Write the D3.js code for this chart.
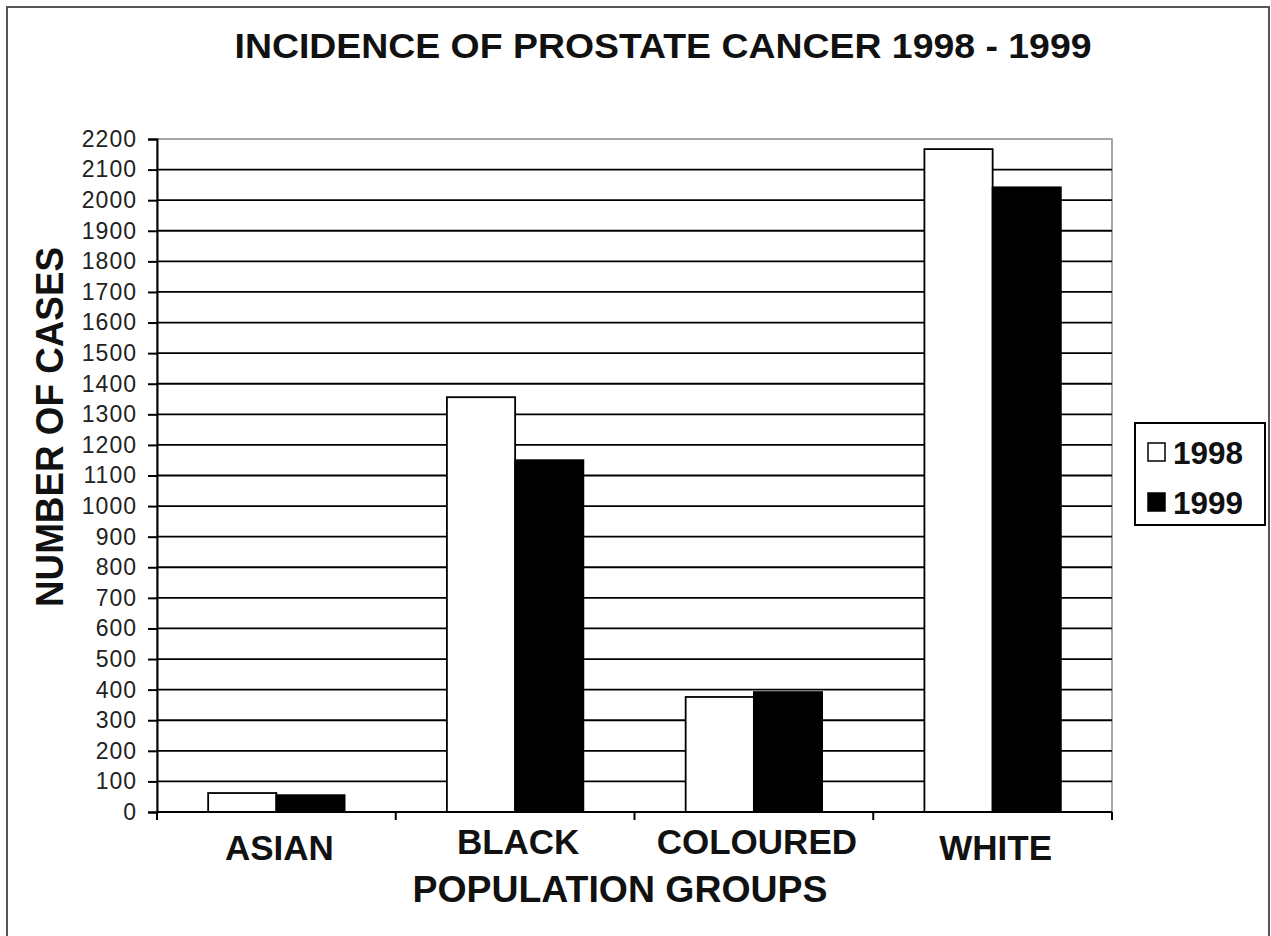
<!DOCTYPE html>
<html>
<head>
<meta charset="utf-8">
<script src="https://cdn.jsdelivr.net/npm/d3@7"></script>
<style>
  html, body { margin: 0; padding: 0; background: #fff; }
  svg { display: block; font-family: "Liberation Sans", Arial, sans-serif; }
</style>
</head>
<body>
<svg id="chart" width="1271" height="936"></svg>
<script>
// Population groups and yearly prostate cancer case counts
const categories = ["ASIAN", "BLACK", "COLOURED", "WHITE"];
const seriesNames = ["1998", "1999"];
const cases1998 = [62, 1356, 376, 2167];
const cases1999 = [55, 1150, 392, 2042];
const yTicks = d3.range(0, 2201, 100);

const titleText = "INCIDENCE OF PROSTATE CANCER 1998 - 1999";
const yTitleText = "NUMBER OF CASES";
const xTitleText = "POPULATION GROUPS";

const seriesValues = [cases1998, cases1999];
const seriesFill = ["#ffffff", "#000000"];

const svg = d3.select("#chart");

// Outer chart frame
svg.append("rect")
  .attr("x", 7).attr("y", 7)
  .attr("width", 1262).attr("height", 935)
  .attr("fill", "#fff")
  .attr("stroke", "#555").attr("stroke-width", 2);

const plot = { left: 157, right: 1112, top: 139, bottom: 812 };

const x = d3.scaleBand()
  .domain(categories)
  .range([plot.left, plot.right])
  .paddingInner(0).paddingOuter(0);

const y = d3.scaleLinear()
  .domain([0, 2200])
  .range([plot.bottom, plot.top]);

// Bars within each category take 1/(1+gap) of the band
const gapRatio = 0.75;
const groupWidth = x.bandwidth() / (1 + gapRatio);
const x1 = d3.scaleBand()
  .domain(seriesNames)
  .range([0, groupWidth]);

// Plot area border
svg.append("rect")
  .attr("x", plot.left).attr("y", plot.top)
  .attr("width", plot.right - plot.left)
  .attr("height", plot.bottom - plot.top)
  .attr("fill", "none")
  .attr("stroke", "#8a8a8a").attr("stroke-width", 1.5);

// Horizontal gridlines
svg.append("g")
  .selectAll("line")
  .data(yTicks.filter(d => d > 0 && d < 2200))
  .join("line")
  .attr("x1", plot.left).attr("x2", plot.right)
  .attr("y1", d => y(d)).attr("y2", d => y(d))
  .attr("stroke", "#000").attr("stroke-width", 1.8);

// Bars
const groups = svg.append("g")
  .selectAll("g")
  .data(categories)
  .join("g")
  .attr("transform", d => `translate(${x(d) + (x.bandwidth() - groupWidth) / 2},0)`);

groups.selectAll("rect")
  .data((c, ci) => seriesNames.map((s, si) => ({ s, si, v: seriesValues[si][ci] })))
  .join("rect")
  .attr("x", d => x1(d.s))
  .attr("y", d => y(d.v))
  .attr("width", x1.bandwidth())
  .attr("height", d => y(0) - y(d.v))
  .attr("fill", d => seriesFill[d.si])
  .attr("stroke", "#000").attr("stroke-width", 1.8);

// Y axis
const yAxis = svg.append("g")
  .attr("transform", `translate(${plot.left},0)`)
  .call(d3.axisLeft(y).tickValues(yTicks).tickSize(9).tickPadding(11).tickFormat(d3.format("d")));
yAxis.select(".domain").attr("stroke", "#000").attr("stroke-width", 2);
yAxis.selectAll(".tick line").attr("stroke", "#000").attr("stroke-width", 2);
yAxis.selectAll(".tick text")
  .attr("font-family", "'Liberation Sans', Arial, sans-serif")
  .attr("font-size", 23)
  .attr("letter-spacing", 1)
  .attr("fill", "#222");

// X axis: tick marks on category boundaries, labels centred on bands
const xAxis = svg.append("g")
  .attr("transform", `translate(0,${plot.bottom})`);
xAxis.append("line")
  .attr("x1", plot.left).attr("x2", plot.right)
  .attr("stroke", "#000").attr("stroke-width", 2);
const boundaries = categories.map(c => x(c)).concat([plot.right]);
xAxis.selectAll("line.tick")
  .data(boundaries)
  .join("line")
  .attr("class", "tick")
  .attr("x1", d => d).attr("x2", d => d)
  .attr("y1", 0).attr("y2", 8)
  .attr("stroke", "#000").attr("stroke-width", 2);

const labelRaise = [0, 6, 6, 0];
svg.append("g")
  .selectAll("text")
  .data(categories)
  .join("text")
  .attr("x", d => x(d) + x.bandwidth() / 2 + 3)
  .attr("y", (d, i) => 860 - labelRaise[i])
  .attr("text-anchor", "middle")
  .attr("font-weight", "bold")
  .attr("font-size", 35)
  .attr("fill", "#111")
  .text(d => d);

// Titles
svg.append("text")
  .attr("x", 663).attr("y", 58)
  .attr("text-anchor", "middle")
  .attr("font-weight", "bold")
  .attr("font-size", 35)
  .attr("textLength", 857)
  .attr("lengthAdjust", "spacingAndGlyphs")
  .attr("fill", "#111")
  .text(titleText);

svg.append("text")
  .attr("x", 620).attr("y", 902)
  .attr("text-anchor", "middle")
  .attr("font-weight", "bold")
  .attr("font-size", 36)
  .attr("textLength", 415)
  .attr("lengthAdjust", "spacingAndGlyphs")
  .attr("fill", "#111")
  .text(xTitleText);

svg.append("text")
  .attr("transform", "translate(63,427) rotate(-90)")
  .attr("text-anchor", "middle")
  .attr("font-weight", "bold")
  .attr("font-size", 38)
  .attr("textLength", 360)
  .attr("lengthAdjust", "spacingAndGlyphs")
  .attr("fill", "#111")
  .text(yTitleText);

// Legend
const legend = svg.append("g");
legend.append("rect")
  .attr("x", 1135).attr("y", 423)
  .attr("width", 130).attr("height", 102)
  .attr("fill", "#fff")
  .attr("stroke", "#000").attr("stroke-width", 2);

const legendItems = legend.selectAll("g")
  .data(seriesNames)
  .join("g")
  .attr("transform", (d, i) => `translate(1148,${443 + i * 50})`);
legendItems.append("rect")
  .attr("width", 17).attr("height", 18)
  .attr("fill", (d, i) => seriesFill[i])
  .attr("stroke", "#000").attr("stroke-width", 1.5);
legendItems.append("text")
  .attr("x", 25).attr("y", 21)
  .attr("font-weight", "bold")
  .attr("font-size", 32)
  .attr("textLength", 70)
  .attr("lengthAdjust", "spacingAndGlyphs")
  .attr("fill", "#111")
  .text(d => d);
</script>
</body>
</html>
